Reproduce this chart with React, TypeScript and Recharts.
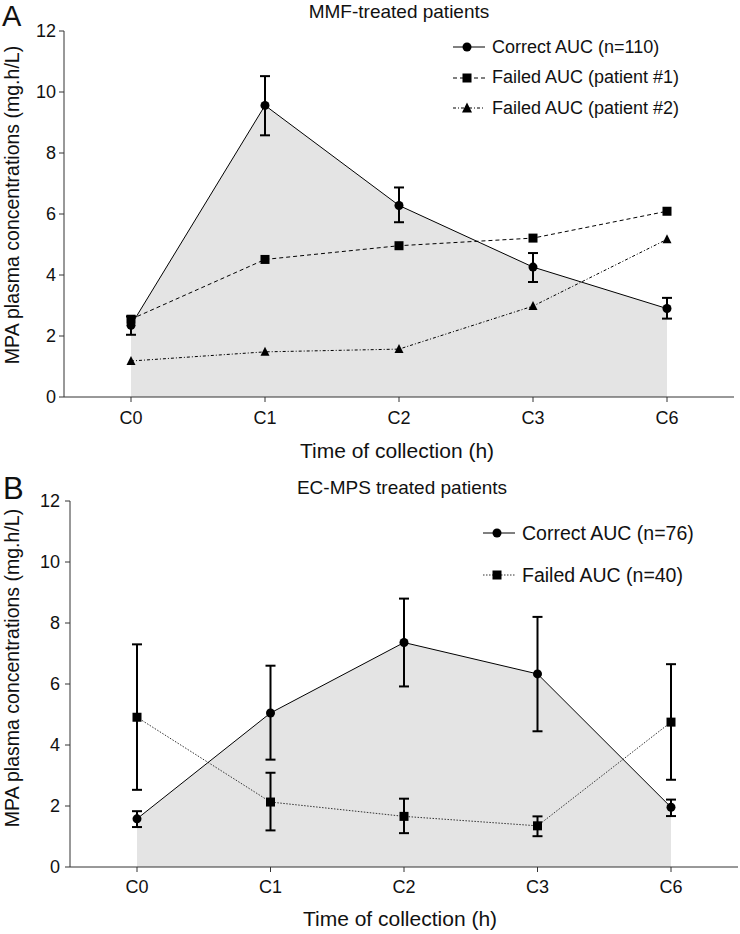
import { ComposedChart, Line, Area, XAxis, YAxis, ErrorBar } from "recharts";

const times = ["C0", "C1", "C2", "C3", "C6"];
const yTicks = [0, 2, 4, 6, 8, 10, 12];

// panel A, MMF
const mmfCorrect = [2.35, 9.56, 6.28, 4.26, 2.9];
const mmfCorrectLow = [2.04, 8.58, 5.73, 3.77, 2.57];
const mmfCorrectHigh = [2.64, 10.52, 6.87, 4.72, 3.25];
const mmfFailed1 = [2.55, 4.51, 4.96, 5.21, 6.09];
const mmfFailed2 = [1.18, 1.48, 1.57, 2.98, 5.17];

// panel B, EC-MPS
const ecCorrect = [1.58, 5.05, 7.36, 6.33, 1.96];
const ecCorrectLow = [1.31, 3.52, 5.92, 4.45, 1.67];
const ecCorrectHigh = [1.83, 6.6, 8.8, 8.2, 2.21];
const ecFailed = [4.91, 2.13, 1.66, 1.35, 4.75];
const ecFailedLow = [2.53, 1.2, 1.11, 1.01, 2.86];
const ecFailedHigh = [7.3, 3.09, 2.24, 1.66, 6.65];

const FONT = '"Liberation Sans", Arial, sans-serif';
const SHADE = "#e4e4e4";

type Shape = "circle" | "square" | "triangle";

function Marker({ shape, cx, cy, size }: { shape: Shape; cx: number; cy: number; size: number }) {
  const h = size / 2;
  if (shape === "circle") return <circle cx={cx} cy={cy} r={h} fill="#000" />;
  if (shape === "square") return <rect x={cx - h} y={cy - h} width={size} height={size} fill="#000" />;
  return <polygon points={`${cx},${cy - h - 1} ${cx - h - 0.5},${cy + h} ${cx + h + 0.5},${cy + h}`} fill="#000" />;
}

const dotOf = (shape: Shape, size: number) => (p: any) =>
  p.cx == null ? <g key={p.index} /> : <Marker key={p.index} shape={shape} cx={p.cx} cy={p.cy} size={size} />;

interface Entry {
  name: string;
  shape: Shape;
  dash?: string;
  stroke?: string;
}

function LegendBox({ entries, gap, fontSize, left, top }: { entries: Entry[]; gap: number; fontSize: number; left: number; top: number }) {
  return (
    <div style={{ position: "absolute", left, top, fontFamily: FONT, fontSize, color: "#111" }}>
      {entries.map((e) => (
        <div key={e.name} style={{ display: "flex", alignItems: "center", height: gap, whiteSpace: "nowrap" }}>
          <svg width={34} height={14} style={{ marginRight: 6 }}>
            <line x1={1} y1={7} x2={33} y2={7} stroke={e.stroke || "#000"} strokeWidth={1} strokeDasharray={e.dash} />
            <Marker shape={e.shape} cx={15} cy={7} size={9} />
          </svg>
          <span>{e.name}</span>
        </div>
      ))}
    </div>
  );
}

const absText = (style: React.CSSProperties, text: string, size: number) => (
  <div
    style={{
      position: "absolute",
      fontFamily: FONT,
      fontSize: size,
      lineHeight: 1,
      color: "#111",
      whiteSpace: "nowrap",
      ...style,
    }}
  >
    {text}
  </div>
);

function PanelA() {
  const data = times.map((t, i) => ({
    t,
    correct: mmfCorrect[i],
    correctErr: [mmfCorrect[i] - mmfCorrectLow[i], mmfCorrectHigh[i] - mmfCorrect[i]],
    failed1: mmfFailed1[i],
    failed2: mmfFailed2[i],
  }));
  const entries: Entry[] = [
    { name: "Correct AUC (n=110)", shape: "circle" },
    { name: "Failed AUC (patient #1)", shape: "square", dash: "4 3" },
    { name: "Failed AUC (patient #2)", shape: "triangle", dash: "3 2 1 2" },
  ];
  return (
    <div style={{ position: "absolute", left: 0, top: 0, width: 740, height: 460 }}>
      <ComposedChart width={740} height={460} data={data} margin={{ top: 31, right: 6, left: 0, bottom: 0 }}>
        <XAxis
          dataKey="t"
          padding={{ left: 67, right: 67 }}
          tickSize={5}
          tickMargin={9}
          height={63}
          stroke="#333"
          tick={{ fill: "#111", fontSize: 18, fontFamily: FONT }}
        />
        <YAxis
          domain={[0, 12]}
          ticks={yTicks}
          width={64}
          tickSize={5}
          tickMargin={3}
          stroke="#333"
          tick={{ fill: "#111", fontSize: 18, fontFamily: FONT }}
        />
        <Area dataKey="correct" fill={SHADE} fillOpacity={1} stroke="none" dot={false} activeDot={false} isAnimationActive={false} />
        <Line dataKey="failed2" stroke="#000" strokeWidth={1} strokeDasharray="3 2 1 2" dot={dotOf("triangle", 8)} activeDot={false} isAnimationActive={false} />
        <Line dataKey="failed1" stroke="#000" strokeWidth={1} strokeDasharray="4 3" dot={dotOf("square", 9)} activeDot={false} isAnimationActive={false} />
        <Line dataKey="correct" stroke="#000" strokeWidth={1} dot={dotOf("circle", 9)} activeDot={false} isAnimationActive={false}>
          <ErrorBar dataKey="correctErr" direction="y" width={5} strokeWidth={2} stroke="#000" />
        </Line>
      </ComposedChart>
      <LegendBox entries={entries} gap={30.5} fontSize={18} left={452} top={32} />
      {absText({ left: 2, top: 2 }, "A", 29)}
      {absText({ left: 399, top: 11, transform: "translate(-50%, -50%)" }, "MMF-treated patients", 19)}
      {absText({ left: 13, top: 205, transform: "translate(-50%, -50%) rotate(-90deg)" }, "MPA plasma concentrations (mg.h/L)", 19.5)}
      {absText({ left: 397, top: 450, transform: "translate(-50%, -50%)" }, "Time of collection (h)", 21)}
    </div>
  );
}

function PanelB() {
  const data = times.map((t, i) => ({
    t,
    correct: ecCorrect[i],
    correctErr: [ecCorrect[i] - ecCorrectLow[i], ecCorrectHigh[i] - ecCorrect[i]],
    failed: ecFailed[i],
    failedErr: [ecFailed[i] - ecFailedLow[i], ecFailedHigh[i] - ecFailed[i]],
  }));
  const entries: Entry[] = [
    { name: "Correct AUC (n=76)", shape: "circle" },
    { name: "Failed AUC (n=40)", shape: "square", dash: "1.5 1.5", stroke: "#333" },
  ];
  return (
    <div style={{ position: "absolute", left: 0, top: 470, width: 740, height: 464 }}>
      <ComposedChart width={740} height={464} data={data} margin={{ top: 31, right: 2, left: 0, bottom: 0 }}>
        <XAxis
          dataKey="t"
          padding={{ left: 67, right: 67 }}
          tickSize={5}
          tickMargin={8}
          height={67}
          stroke="#333"
          tick={{ fill: "#111", fontSize: 18, fontFamily: FONT }}
        />
        <YAxis
          domain={[0, 12]}
          ticks={yTicks}
          width={70}
          tickSize={5}
          tickMargin={5}
          stroke="#333"
          tick={{ fill: "#111", fontSize: 18, fontFamily: FONT }}
        />
        <Area dataKey="correct" fill={SHADE} fillOpacity={1} stroke="none" dot={false} activeDot={false} isAnimationActive={false} />
        <Line dataKey="failed" stroke="#333" strokeWidth={1} strokeDasharray="1.5 1.5" dot={dotOf("square", 9)} activeDot={false} isAnimationActive={false}>
          <ErrorBar dataKey="failedErr" direction="y" width={5} strokeWidth={2} stroke="#000" />
        </Line>
        <Line dataKey="correct" stroke="#000" strokeWidth={1} dot={dotOf("circle", 9)} activeDot={false} isAnimationActive={false}>
          <ErrorBar dataKey="correctErr" direction="y" width={5} strokeWidth={2} stroke="#000" />
        </Line>
      </ComposedChart>
      <LegendBox entries={entries} gap={42} fontSize={19.5} left={482} top={42} />
      {absText({ left: 3, top: 3 }, "B", 31)}
      {absText({ left: 402, top: 17, transform: "translate(-50%, -50%)" }, "EC-MPS treated patients", 19)}
      {absText({ left: 13, top: 198, transform: "translate(-50%, -50%) rotate(-90deg)" }, "MPA plasma concentrations (mg.h/L)", 19.5)}
      {absText({ left: 400, top: 448, transform: "translate(-50%, -50%)" }, "Time of collection (h)", 21)}
    </div>
  );
}

export default function App() {
  return (
    <div style={{ position: "absolute", left: 0, top: 0, width: 740, height: 934, background: "#fff" }}>
      <PanelA />
      <PanelB />
    </div>
  );
}
